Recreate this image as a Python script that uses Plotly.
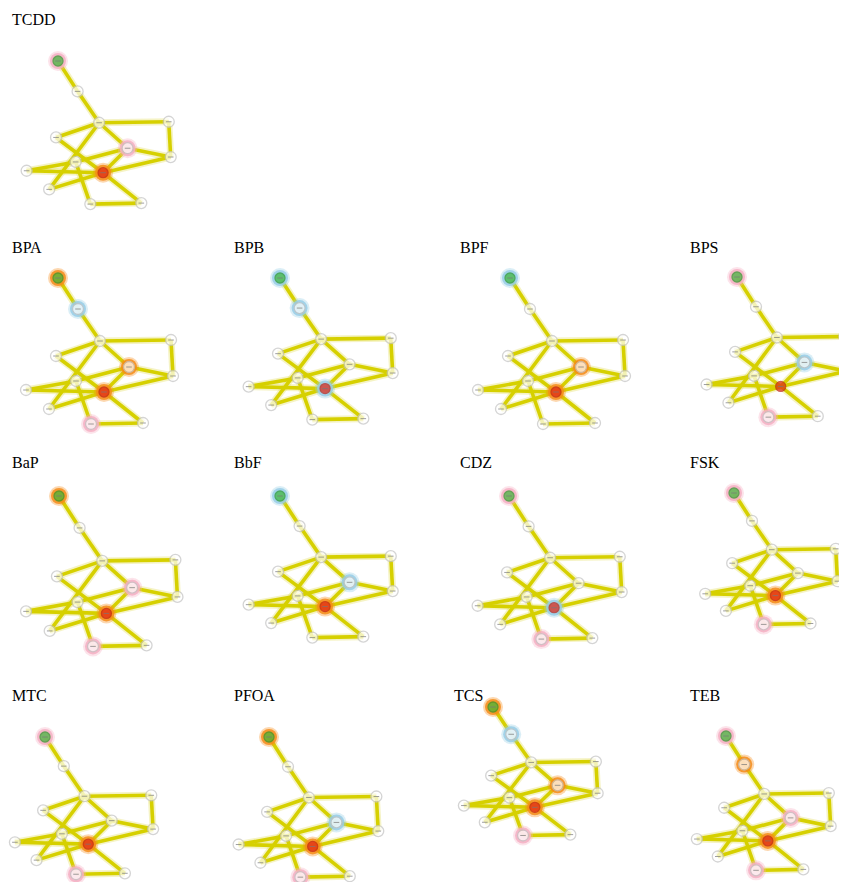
import plotly.graph_objects as go

W, H = 847, 882
OFF = 8  # default page margin around the figure

# ---------------- data ----------------
panel_names = ["TCDD", "BPA", "BPB", "BPF", "BPS", "BaP", "BbF", "CDZ", "FSK",
               "MTC", "PFOA", "TCS", "TEB"]

# network layout (node coordinates of the shared graph, relative units)
node_x = [0, 20, 42, 113, -2, 71, 115, 18, -32, 46, -9, 33, 85]
node_y = [0, 31, 63, 62, 78, 89, 98, 103, 112, 114, 131, 146, 145]
node_kind = ["source", "plain", "plain", "plain", "plain", "plain", "plain",
             "plain", "plain", "target", "plain", "plain", "plain"]

edge_src = [0, 1, 2, 2, 2, 2, 3, 5, 4, 7, 5, 6, 7, 8, 7, 10, 9, 11]
edge_dst = [1, 2, 3, 4, 5, 10, 6, 6, 9, 5, 9, 9, 8, 9, 11, 9, 12, 12]

# highlighted nodes per chemical: node index -> halo colour
halo_TCDD = {0: "pink", 5: "pink", 9: "orange"}
halo_BPA = {0: "orange", 1: "blue", 5: "orange", 9: "orange", 11: "pink"}
halo_BPB = {0: "blue", 1: "blue", 9: "blue"}
halo_BPF = {0: "blue", 5: "orange", 9: "orange"}
halo_BPS = {0: "pink", 5: "blue", 11: "pink"}
halo_BaP = {0: "orange", 5: "pink", 9: "orange", 11: "pink"}
halo_BbF = {0: "blue", 5: "blue", 9: "orange"}
halo_CDZ = {0: "pink", 9: "blue", 11: "pink"}
halo_FSK = {0: "pink", 9: "orange", 11: "pink"}
halo_MTC = {0: "pink", 9: "orange", 11: "pink"}
halo_PFOA = {0: "orange", 5: "blue", 9: "orange", 11: "pink"}
halo_TCS = {0: "orange", 1: "blue", 5: "orange", 9: "orange", 11: "pink"}
halo_TEB = {0: "pink", 1: "orange", 5: "pink", 9: "orange", 11: "pink"}

halos = [halo_TCDD, halo_BPA, halo_BPB, halo_BPF, halo_BPS, halo_BaP, halo_BbF,
         halo_CDZ, halo_FSK, halo_MTC, halo_PFOA, halo_TCS, halo_TEB]

# ---------------- layout (placement of each panel, pixels) ----------------
anchor = [(58, 61), (58, 278), (280, 278), (510, 278), (737, 277),
          (59, 496), (280, 496), (509, 496), (734, 493),
          (45, 737), (269, 737), (493, 707), (726, 736)]
scale = [(0.98, 0.98), (1.0, 1.0), (0.98, 0.97), (1.0, 1.0), (0.95, 0.96),
         (1.03, 1.03), (0.98, 0.97), (0.98, 0.98), (0.90, 0.90),
         (0.94, 0.94), (0.95, 0.96), (0.91, 0.88), (0.91, 0.92)]
label_pos = [(10, 25), (10, 253), (232, 253), (458, 253), (688, 253),
             (10, 468), (232, 468), (458, 468), (688, 468),
             (10, 701), (232, 701), (452, 701), (688, 701)]

halo_rgb = {"orange": (245, 140, 25), "blue": (150, 205, 230), "pink": (245, 175, 195)}
EDGE = "rgb(214,208,0)"
EDGE_GLOW = "rgba(225,220,90,0.35)"

fig = go.Figure()

for p, name in enumerate(panel_names):
    ax, ay = anchor[p]
    sx, sy = scale[p]
    px = [ax + sx * v for v in node_x]
    py = [ay + sy * v for v in node_y]

    ex, ey = [], []
    for s, d in zip(edge_src, edge_dst):
        ex += [px[s], px[d], None]
        ey += [py[s], py[d], None]
    fig.add_trace(go.Scatter(x=ex, y=ey, mode="lines",
                             line=dict(color=EDGE_GLOW, width=7),
                             hoverinfo="skip", showlegend=False))
    fig.add_trace(go.Scatter(x=ex, y=ey, mode="lines",
                             line=dict(color=EDGE, width=3.6),
                             hoverinfo="skip", showlegend=False))

    # halos
    h = halos[p]
    for cname, (r, g, b) in halo_rgb.items():
        ids = [i for i, c in h.items() if c == cname]
        if not ids:
            continue
        hx = [px[i] for i in ids]
        hy = [py[i] for i in ids]
        fig.add_trace(go.Scatter(x=hx, y=hy, mode="markers",
                                 marker=dict(size=20, color=f"rgba({r},{g},{b},0.35)",
                                             line=dict(width=0)),
                                 hoverinfo="skip", showlegend=False))
        fig.add_trace(go.Scatter(x=hx, y=hy, mode="markers",
                                 marker=dict(size=16, color=f"rgba({r},{g},{b},0.85)",
                                             line=dict(width=0)),
                                 hoverinfo="skip", showlegend=False))

    # nodes
    colors, borders, sizes = [], [], []
    for k in node_kind:
        if k == "source":
            colors.append("rgb(62,184,58)"); borders.append("rgb(40,150,40)"); sizes.append(10)
        elif k == "target":
            colors.append("rgb(225,38,25)"); borders.append("rgb(190,30,20)"); sizes.append(10)
        else:
            colors.append("white"); borders.append("rgb(195,195,195)"); sizes.append(11)
    fig.add_trace(go.Scatter(x=px, y=py, mode="markers",
                             marker=dict(size=sizes, color=colors,
                                         line=dict(color=borders, width=1.3)),
                             hoverinfo="skip", showlegend=False))
    # tiny label marks inside nodes
    fig.add_trace(go.Scatter(x=px, y=py, mode="markers",
                             marker=dict(symbol="line-ew", size=4,
                                         line=dict(color="rgba(120,120,120,0.7)", width=1)),
                             hoverinfo="skip", showlegend=False))

    lx, ly = label_pos[p]
    fig.add_annotation(x=lx, y=ly - 6, xref="x", yref="y", text=name,
                       showarrow=False, xanchor="left", yanchor="middle",
                       font=dict(family="Liberation Serif, Times New Roman, serif",
                                 size=16, color="black"))

fig.update_layout(
    width=W - OFF, height=H - OFF,
    margin=dict(l=0, r=0, t=0, b=0),
    paper_bgcolor="white", plot_bgcolor="white",
    xaxis=dict(range=[OFF, W], visible=False, fixedrange=True),
    yaxis=dict(range=[H, OFF], visible=False, fixedrange=True),
    showlegend=False,
)

fig.write_html("out.html")
